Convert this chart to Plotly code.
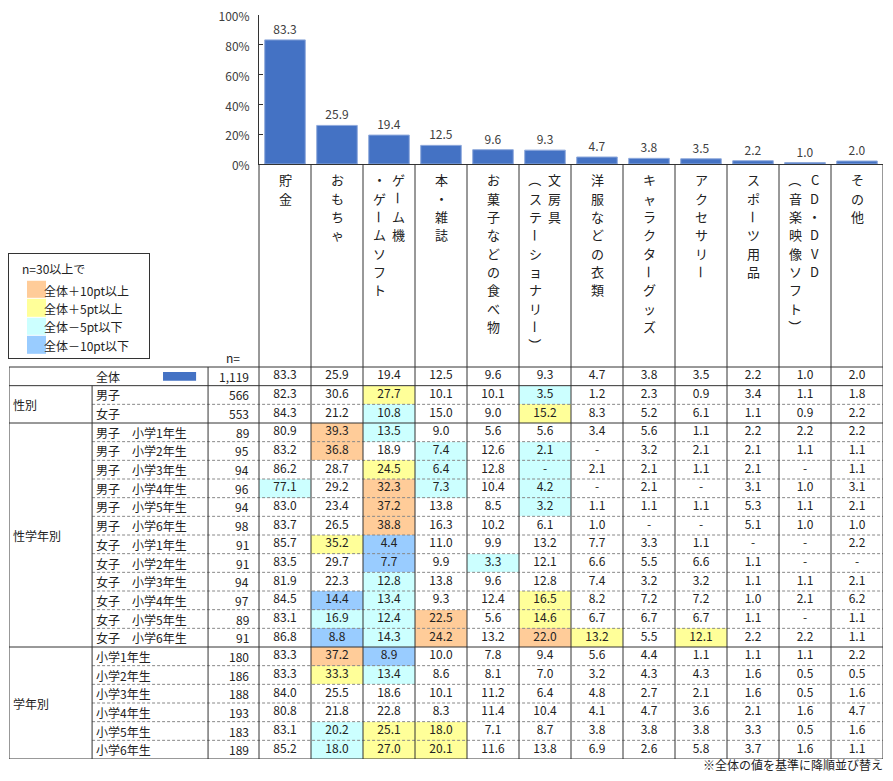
import plotly.graph_objects as go

# ---- data -------------------------------------------------------------
categories = ["貯金", "おもちゃ", "ゲーム機・ゲームソフト", "本・雑誌", "お菓子などの食べ物",
              "文房具（ステーショナリー）", "洋服などの衣類", "キャラクターグッズ", "アクセサリー",
              "スポーツ用品", "CD・DVD（音楽映像ソフト）", "その他"]
# header text as it is wrapped in the table (vertical, right column first)
header_lines = [["貯金"], ["おもちゃ"], ["ゲーム機", "・ゲームソフト"], ["本・雑誌"],
                ["お菓子などの食べ物"], ["文房具", "（ステーショナリー）"], ["洋服などの衣類"],
                ["キャラクターグッズ"], ["アクセサリー"], ["スポーツ用品"],
                ["CD・DVD", "（音楽映像ソフト）"], ["その他"]]

total_label = "全体"
total_n = 1119
total = [83.3, 25.9, 19.4, 12.5, 9.6, 9.3, 4.7, 3.8, 3.5, 2.2, 1.0, 2.0]

gender_labels = ["男子", "女子"]
gender_n = [566, 553]
gender_values = [
    [82.3, 30.6, 27.7, 10.1, 10.1, 3.5, 1.2, 2.3, 0.9, 3.4, 1.1, 1.8],
    [84.3, 21.2, 10.8, 15.0, 9.0, 15.2, 8.3, 5.2, 6.1, 1.1, 0.9, 2.2],
]

gender_grade_labels = ["男子　小学1年生", "男子　小学2年生", "男子　小学3年生", "男子　小学4年生",
                       "男子　小学5年生", "男子　小学6年生", "女子　小学1年生", "女子　小学2年生",
                       "女子　小学3年生", "女子　小学4年生", "女子　小学5年生", "女子　小学6年生"]
gender_grade_n = [89, 95, 94, 96, 94, 98, 91, 91, 94, 97, 89, 91]
gender_grade_values = [
    [80.9, 39.3, 13.5, 9.0, 5.6, 5.6, 3.4, 5.6, 1.1, 2.2, 2.2, 2.2],
    [83.2, 36.8, 18.9, 7.4, 12.6, 2.1, None, 3.2, 2.1, 2.1, 1.1, 1.1],
    [86.2, 28.7, 24.5, 6.4, 12.8, None, 2.1, 2.1, 1.1, 2.1, None, 1.1],
    [77.1, 29.2, 32.3, 7.3, 10.4, 4.2, None, 2.1, None, 3.1, 1.0, 3.1],
    [83.0, 23.4, 37.2, 13.8, 8.5, 3.2, 1.1, 1.1, 1.1, 5.3, 1.1, 2.1],
    [83.7, 26.5, 38.8, 16.3, 10.2, 6.1, 1.0, None, None, 5.1, 1.0, 1.0],
    [85.7, 35.2, 4.4, 11.0, 9.9, 13.2, 7.7, 3.3, 1.1, None, None, 2.2],
    [83.5, 29.7, 7.7, 9.9, 3.3, 12.1, 6.6, 5.5, 6.6, 1.1, None, None],
    [81.9, 22.3, 12.8, 13.8, 9.6, 12.8, 7.4, 3.2, 3.2, 1.1, 1.1, 2.1],
    [84.5, 14.4, 13.4, 9.3, 12.4, 16.5, 8.2, 7.2, 7.2, 1.0, 2.1, 6.2],
    [83.1, 16.9, 12.4, 22.5, 5.6, 14.6, 6.7, 6.7, 6.7, 1.1, None, 1.1],
    [86.8, 8.8, 14.3, 24.2, 13.2, 22.0, 13.2, 5.5, 12.1, 2.2, 2.2, 1.1],
]

grade_labels = ["小学1年生", "小学2年生", "小学3年生", "小学4年生", "小学5年生", "小学6年生"]
grade_n = [180, 186, 188, 193, 183, 189]
grade_values = [
    [83.3, 37.2, 8.9, 10.0, 7.8, 9.4, 5.6, 4.4, 1.1, 1.1, 1.1, 2.2],
    [83.3, 33.3, 13.4, 8.6, 8.1, 7.0, 3.2, 4.3, 4.3, 1.6, 0.5, 0.5],
    [84.0, 25.5, 18.6, 10.1, 11.2, 6.4, 4.8, 2.7, 2.1, 1.6, 0.5, 1.6],
    [80.8, 21.8, 22.8, 8.3, 11.4, 10.4, 4.1, 4.7, 3.6, 2.1, 1.6, 4.7],
    [83.1, 20.2, 25.1, 18.0, 7.1, 8.7, 3.8, 3.8, 3.8, 3.3, 0.5, 1.6],
    [85.2, 18.0, 27.0, 20.1, 11.6, 13.8, 6.9, 2.6, 5.8, 3.7, 1.6, 1.1],
]

groups = [
    ("性別", gender_labels, gender_n, gender_values),
    ("性学年別", gender_grade_labels, gender_grade_n, gender_grade_values),
    ("学年別", grade_labels, grade_n, grade_values),
]

legend_title = "n=30以上で"
legend_labels = ["全体＋10pt以上", "全体＋5pt以上", "全体－5pt以下", "全体－10pt以下"]
legend_codes = [3, 2, 1, 0]
band_colors = ["#99CCFF", "#CCFFFF", "#FFFF99", "#FFCC99"]  # -10, -5, +5, +10
footnote = "※全体の値を基準に降順並び替え"

# ---- helpers ----------------------------------------------------------
W, H, OFF = 877, 765, 8


def fx(p):
    return (p - OFF) / W


def fy(p):
    return 1 - (p - OFF) / H


def band(v, base):
    d = round((v or 0) - base, 1)
    if d >= 10:
        return 3
    if d >= 5:
        return 2
    if d <= -10:
        return 0
    if d <= -5:
        return 1
    return None


def fmt(v):
    return "-" if v is None else f"{v:.1f}"


ncol = len(categories)
X_GRP, X_LBL, X_N = -4.808, -3.21, -0.98
ROW_H = (759 - 367) / 21
HDR = (367 - 164) / ROW_H
LINE = dict(color="#333333", width=1)
DASH = dict(color="#888888", width=1, dash="3px,2px")
FONT = "Noto Sans CJK JP"

# ---- table rows -------------------------------------------------------
row_labels, row_n, row_vals = [total_label], [total_n], [total]
for _, labels, ns, vals in groups:
    row_labels += labels
    row_n += ns
    row_vals += vals
nrow = len(row_labels)

z = [[None] * ncol] + [[band(v, t) for v, t in zip(r, total)] for r in row_vals[1:]]

fig = go.Figure()

fig.add_trace(go.Bar(
    x=categories, y=total, width=0.78,
    marker=dict(color="#4472C4", line=dict(color="#8FAADC", width=1)),
    text=[fmt(v) for v in total], textposition="outside", cliponaxis=False,
    textfont=dict(size=12, color="#404040"), hoverinfo="skip", showlegend=False,
))

scale = [[0, band_colors[0]], [0.25, band_colors[0]], [0.25, band_colors[1]], [0.5, band_colors[1]],
         [0.5, band_colors[2]], [0.75, band_colors[2]], [0.75, band_colors[3]], [1, band_colors[3]]]

fig.add_trace(go.Heatmap(
    z=z, x=[i + 0.5 for i in range(ncol)], y=[r + 0.5 for r in range(nrow)],
    xaxis="x2", yaxis="y2", colorscale=scale, zmin=-0.5, zmax=3.5,
    showscale=False, hoverinfo="skip",
))

tx, ty, tt = [], [], []
for r, vals in enumerate(row_vals):
    for i, v in enumerate(vals):
        tx.append(i + 0.5)
        ty.append(r + 0.5)
        tt.append(fmt(v))
fig.add_trace(go.Scatter(
    x=tx, y=ty, text=tt, mode="text", textposition="middle center",
    textfont=dict(size=12, color="#222222"), xaxis="x2", yaxis="y2",
    hoverinfo="skip", showlegend=False,
))

# legend swatches
fig.add_trace(go.Heatmap(
    z=[[c] for c in legend_codes], x0=27.5, dx=19, y0=1, dy=1, ygap=1,
    xaxis="x3", yaxis="y3", colorscale=scale, zmin=-0.5, zmax=3.5,
    showscale=False, hoverinfo="skip",
))

ann = []
shapes = []

# row labels and n
for r, (lab, n) in enumerate(zip(row_labels, row_n)):
    ann.append(dict(xref="x2", yref="y2", x=X_LBL + 0.04, y=r + 0.5, text=lab,
                    xanchor="left", showarrow=False))
    ann.append(dict(xref="x2", yref="y2", x=-0.15, y=r + 0.5, text=f"{n:,}",
                    xanchor="right", showarrow=False))
ann.append(dict(xref="x2", yref="y2", x=-0.32, y=-0.5, text="n=",
                xanchor="right", showarrow=False))

# total key swatch
shapes.append(dict(type="rect", xref="x2", yref="y2", x0=-1.846, x1=-1.21, y0=0.27, y1=0.73,
                   fillcolor="#4472C4", line=dict(width=0)))

# group labels and lines
start = 1
bounds = [0, 1]
for name, labels, _, _ in groups:
    end = start + len(labels)
    ann.append(dict(xref="x2", yref="y2", x=X_GRP + 0.04, y=(start + end) / 2, text=name,
                    xanchor="left", showarrow=False))
    for r in range(start + 1, end):
        shapes.append(dict(type="line", xref="x2", yref="y2", x0=X_LBL, x1=ncol, y0=r, y1=r, line=DASH))
    bounds.append(end)
    start = end
for b in bounds:
    shapes.append(dict(type="line", xref="x2", yref="y2", x0=X_GRP, x1=ncol, y0=b, y1=b, line=LINE))

shapes.append(dict(type="line", xref="x2", yref="y2", x0=X_GRP, x1=X_GRP, y0=0, y1=nrow, line=LINE))
shapes.append(dict(type="line", xref="x2", yref="y2", x0=X_LBL, x1=X_LBL, y0=1, y1=nrow, line=LINE))
shapes.append(dict(type="line", xref="x2", yref="y2", x0=X_N, x1=X_N, y0=0, y1=nrow, line=LINE))
for i in range(ncol + 1):
    shapes.append(dict(type="line", xref="x2", yref="y2", x0=i, x1=i, y0=-HDR, y1=nrow, line=LINE))

# vertical header text
CH_TOP = (180 - 367) / ROW_H
CH_STEP = 18.3 / ROW_H
for i, lines in enumerate(header_lines):
    offs = [0.0] if len(lines) == 1 else [0.19, -0.19]
    for line, dx in zip(lines, offs):
        for j, ch in enumerate(line):
            ann.append(dict(xref="x2", yref="y2", x=i + 0.5 + dx, y=CH_TOP + j * CH_STEP, text=ch,
                            textangle=90 if ch in "ー（）" else 0, showarrow=False,
                            borderpad=0, font=dict(size=13)))

# legend text
ann.append(dict(xref="x3", yref="y3", x=11, y=-0.15, text=legend_title, xanchor="left", showarrow=False))
for k, lab in enumerate(legend_labels):
    ann.append(dict(xref="x3", yref="y3", x=33, y=k + 1, text=lab, xanchor="left", showarrow=False))

ann.append(dict(xref="paper", yref="paper", x=fx(884), y=fy(764), text=footnote,
                xanchor="right", yanchor="middle", borderpad=0, showarrow=False))

hidden = dict(visible=False, automargin=False)
box = dict(showline=True, mirror=True, linecolor="#333333", showticklabels=False, ticks="",
           showgrid=False, zeroline=False, automargin=False, fixedrange=True)
fig.update_layout(
    width=W, height=H, autosize=False,
    margin=dict(l=0, r=0, t=0, b=0, pad=0),
    paper_bgcolor="white", plot_bgcolor="white",
    font=dict(family=FONT, size=12, color="#222222"),
    showlegend=False,
    xaxis=dict(domain=[fx(259), fx(883)], range=[-0.5, ncol - 0.5], type="category",
               showticklabels=False, ticks="", showgrid=False, zeroline=False, automargin=False,
               showline=True, linecolor="#333333", linewidth=1, fixedrange=True),
    yaxis=dict(domain=[fy(164), fy(15)], range=[0, 100], dtick=20, ticksuffix="%",
               ticks="inside", ticklen=4, tickcolor="#333333", showgrid=False, zeroline=False,
               showline=True, linecolor="#333333", linewidth=1, ticklabelstandoff=6,
               ticklabeloverflow="allow", ticklabelshift=2, automargin=False,
               tickfont=dict(size=12, color="#404040"), fixedrange=True),
    xaxis2=dict(domain=[fx(9), fx(883)], range=[X_GRP, ncol], anchor="y2", **hidden),
    yaxis2=dict(domain=[fy(759), fy(164)], range=[nrow, -HDR], anchor="x2", **hidden),
    xaxis3=dict(domain=[fx(9), fx(149)], range=[0, 140], anchor="y3", **box),
    yaxis3=dict(domain=[fy(358), fy(254)], range=[4.68, -0.95], anchor="x3", **box),
    annotations=ann,
    shapes=shapes,
)

fig.write_html("out.html")
